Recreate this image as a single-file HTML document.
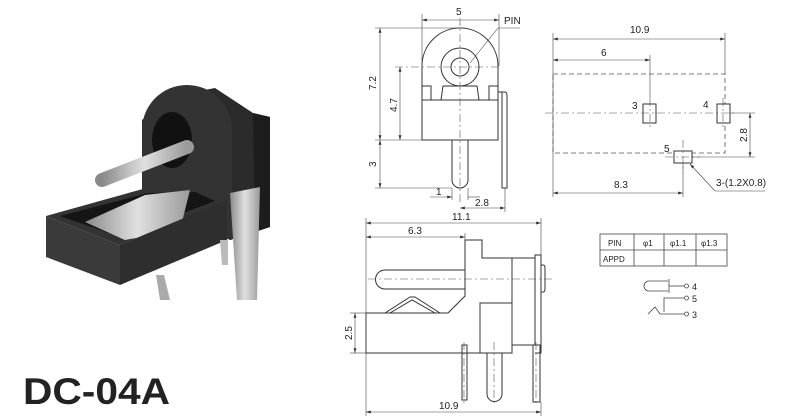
<!DOCTYPE html>
<html><head><meta charset="utf-8"><style>
html,body{margin:0;padding:0;background:#fff;}
svg{display:block;}
text{font-family:"Liberation Sans",Arial,sans-serif;fill:#222;}
</style></head><body>
<svg width="800" height="420" viewBox="0 0 800 420" xmlns="http://www.w3.org/2000/svg">
<defs>
<marker id="a" viewBox="0 0 10 6" refX="10" refY="3" markerWidth="8" markerHeight="5" orient="auto-start-reverse"><path d="M0,0L10,3L0,6z" fill="#333"/></marker>
<linearGradient id="met" x1="0" x2="1"><stop offset="0" stop-color="#8a8a8a"/><stop offset=".5" stop-color="#e0e0e0"/><stop offset="1" stop-color="#9a9a9a"/></linearGradient>
</defs>

<!-- PHOTO -->
<g>
<polygon points="142,200 142,120 170,97 215,88 253,113 270,117 270,227 230,240" fill="#2b2b2b"/>
<polygon points="253,113 270,117 270,227 255,232" fill="#1d1d1d"/>
<path d="M142,200 L142,130 A45,45 0 0 1 232,130 L232,240 Z" fill="#333"/>
<ellipse cx="172" cy="140" rx="20" ry="28" fill="#111"/>
<polygon points="46,216 150,187 200,185 227,200 120,245" fill="#333"/>
<polygon points="60,216 148,193 195,192 215,201 120,237" fill="#151515"/>
<polygon points="85,222 145,195 190,190 180,230 125,240" fill="url(#met)"/>
<line x1="102" y1="180" x2="187" y2="147" stroke="url(#met)" stroke-width="14" stroke-linecap="round"/>
<polygon points="46,216 120,245 120,285 46,257" fill="#3a3a3a"/>
<polygon points="120,245 227,200 227,240 120,285" fill="#2e2e2e"/>
<polygon points="156,275 164,275 170,300 160,300" fill="#aaa"/>
<polygon points="220,240 228,240 228,265 222,265" fill="#bbb"/>
<polygon points="230,193 260,187 257,300 237,300" fill="url(#met)"/>
</g>
<text x="23" y="404" font-size="37" font-weight="bold" textLength="147" lengthAdjust="spacingAndGlyphs" fill="#111">DC-04A</text>

<!-- FRONT VIEW -->
<g fill="none" stroke="#333" stroke-width="1">
<path d="M422,100 L422,66 A38,38 0 0 1 498,66 L498,100"/>
<circle cx="460" cy="67" r="19"/>
<circle cx="460" cy="67" r="9"/>
<rect x="422" y="100" width="76" height="40"/>
<path d="M422,86 H431 V100 M489,100 V86 H498 M441,100 L443,86 H477 L479,100"/>
<path d="M498,92 H505 Q507,92 507,96 V188 H502 V92"/>
<path d="M452,140 V180 A8,8 0 0 0 468,180 V140"/>
</g>
<g stroke="#555" stroke-width="0.6" stroke-dasharray="8,3,2,3" fill="none">
<line x1="460" y1="18" x2="460" y2="205"/>
<line x1="395" y1="67" x2="500" y2="67"/>
</g>
<g stroke="#444" stroke-width="0.6" fill="none">
<line x1="422" y1="14" x2="422" y2="66"/><line x1="499" y1="14" x2="499" y2="66"/>
<line x1="422" y1="20" x2="499" y2="20" marker-start="url(#a)" marker-end="url(#a)"/>
<line x1="375" y1="28" x2="460" y2="28"/>
<line x1="375" y1="140" x2="422" y2="140"/>
<line x1="375" y1="188" x2="452" y2="188"/>
<line x1="380" y1="28" x2="380" y2="140" marker-start="url(#a)" marker-end="url(#a)"/>
<line x1="380" y1="140" x2="380" y2="188" marker-start="url(#a)" marker-end="url(#a)"/>
<line x1="400" y1="67" x2="400" y2="140" marker-start="url(#a)" marker-end="url(#a)"/>
<line x1="452" y1="188" x2="452" y2="200"/><line x1="468" y1="188" x2="468" y2="200"/>
<line x1="430" y1="197" x2="452" y2="197" marker-end="url(#a)"/>
<line x1="468" y1="197" x2="480" y2="197"/>
<line x1="505" y1="188" x2="505" y2="212"/>
<line x1="460" y1="208" x2="505" y2="208" marker-start="url(#a)" marker-end="url(#a)"/>
<line x1="470" y1="63" x2="498" y2="28"/><line x1="498" y1="28" x2="520" y2="28"/>
</g>
<g font-size="10">
<text x="456" y="15">5</text>
<text x="504" y="24">PIN</text>
<text x="436" y="195">1</text>
<text x="475" y="206">2.8</text>
<text transform="translate(376,90) rotate(-90)">7.2</text>
<text transform="translate(397,112) rotate(-90)">4.7</text>
<text transform="translate(376,167) rotate(-90)">3</text>
</g>

<!-- SIDE VIEW -->
<g fill="none" stroke="#333" stroke-width="1">
<path d="M465,270 H385 A9.5,9.5 0 0 0 385,289 H465"/>
<path d="M366,313 H448 L465,296 V240 H482 V258 H512 V353 H366 Z"/>
<path d="M480,353 V303 H512"/>
<rect x="535" y="255" width="6" height="90"/>
<path d="M541,265 H543 Q545,265 545,268 V289 Q545,292 543,292 H541"/>
<path d="M512,258 H535 M512,345 H535 M541,345 V353 H535"/>
<path d="M385,313 L410,297 H415 L440,313 M390,313 L412,300 L435,313"/>
<rect x="462" y="345" width="5" height="55"/>
<path d="M487,353 V394 A7.5,7.5 0 0 0 502,394 V353"/>
<rect x="533" y="345" width="7" height="57"/>
</g>
<g stroke="#555" stroke-width="0.6" stroke-dasharray="8,3,2,3" fill="none">
<line x1="368" y1="279" x2="555" y2="279"/>
<line x1="464" y1="342" x2="464" y2="404"/>
<line x1="494" y1="342" x2="494" y2="404"/>
<line x1="536" y1="342" x2="536" y2="404"/>
</g>
<g stroke="#444" stroke-width="0.6" fill="none">
<line x1="366" y1="218" x2="366" y2="416"/><line x1="541" y1="218" x2="541" y2="255"/>
<line x1="541" y1="402" x2="541" y2="416"/><line x1="465" y1="233" x2="465" y2="240"/>
<line x1="366" y1="223" x2="541" y2="223" marker-start="url(#a)" marker-end="url(#a)"/>
<line x1="366" y1="237" x2="465" y2="237" marker-start="url(#a)" marker-end="url(#a)"/>
<line x1="366" y1="412" x2="541" y2="412" marker-start="url(#a)" marker-end="url(#a)"/>
<line x1="350" y1="313" x2="366" y2="313"/><line x1="350" y1="353" x2="366" y2="353"/>
<line x1="355" y1="313" x2="355" y2="353" marker-start="url(#a)" marker-end="url(#a)"/>
</g>
<g font-size="10">
<text x="452" y="220">11.1</text>
<text x="408" y="234">6.3</text>
<text x="439" y="409">10.9</text>
<text transform="translate(352,340) rotate(-90)">2.5</text>
</g>

<!-- PCB LAYOUT -->
<rect x="553" y="74" width="172" height="79" fill="none" stroke="#555" stroke-width="0.8" stroke-dasharray="5,3"/>
<g fill="#fff" stroke="#333" stroke-width="1">
<rect x="643" y="104" width="13" height="19"/>
<rect x="717" y="104" width="13" height="19"/>
<rect x="674" y="151" width="18" height="12"/>
</g>
<g stroke="#555" stroke-width="0.6" stroke-dasharray="8,3,2,3" fill="none">
<line x1="545" y1="113" x2="735" y2="113"/>
<line x1="650" y1="98" x2="650" y2="130"/>
<line x1="723" y1="98" x2="723" y2="130"/>
<line x1="683" y1="140" x2="683" y2="170"/>
<line x1="665" y1="157" x2="700" y2="157"/>
</g>
<g stroke="#444" stroke-width="0.6" fill="none">
<line x1="553" y1="33" x2="553" y2="197"/><line x1="725" y1="33" x2="725" y2="74"/>
<line x1="650" y1="55" x2="650" y2="98"/><line x1="683" y1="163" x2="683" y2="197"/>
<line x1="553" y1="39" x2="725" y2="39" marker-start="url(#a)" marker-end="url(#a)"/>
<line x1="553" y1="60" x2="650" y2="60" marker-start="url(#a)" marker-end="url(#a)"/>
<line x1="553" y1="193" x2="683" y2="193" marker-start="url(#a)" marker-end="url(#a)"/>
<line x1="730" y1="113" x2="755" y2="113"/><line x1="692" y1="157" x2="755" y2="157"/>
<line x1="750" y1="113" x2="750" y2="157" marker-start="url(#a)" marker-end="url(#a)"/>
<line x1="715" y1="191" x2="690" y2="164" marker-end="url(#a)"/>
<line x1="715" y1="191" x2="765" y2="191"/>
</g>
<g font-size="10">
<text x="630" y="33">10.9</text>
<text x="601" y="56">6</text>
<text x="632" y="109">3</text>
<text x="703" y="108">4</text>
<text x="664" y="152">5</text>
<text x="614" y="188">8.3</text>
<text x="716" y="186">3-(1.2X0.8)</text>
<text transform="translate(747,142) rotate(-90)">2.8</text>
</g>

<!-- TABLE -->
<g fill="none" stroke="#444" stroke-width="0.8">
<rect x="600" y="234" width="127" height="32"/>
<line x1="600" y1="250" x2="727" y2="250"/>
<line x1="634" y1="234" x2="634" y2="266"/>
<line x1="664" y1="234" x2="664" y2="266"/>
<line x1="696" y1="234" x2="696" y2="266"/>
</g>
<g font-size="8">
<text x="608" y="246">PIN</text>
<text x="643" y="246">φ1</text>
<text x="670" y="246">φ1.1</text>
<text x="701" y="246">φ1.3</text>
<text x="603" y="262">APPD</text>
</g>
<g fill="none" stroke="#444" stroke-width="0.8">
<path d="M668,281 H649 A5,5 0 0 0 649,291 H668"/>
<line x1="669" y1="279" x2="669" y2="293"/>
<line x1="669" y1="286" x2="684" y2="286"/>
<circle cx="686.5" cy="286" r="2"/>
<circle cx="686.5" cy="298" r="2"/>
<circle cx="686.5" cy="314" r="2"/>
<path d="M684,298 H664 V312"/>
<path d="M648,314 L655,307 L660,314 H684"/>
</g>
<g font-size="9">
<text x="692" y="290">4</text>
<text x="692" y="302">5</text>
<text x="692" y="318">3</text>
</g>
</svg>
</body></html>
